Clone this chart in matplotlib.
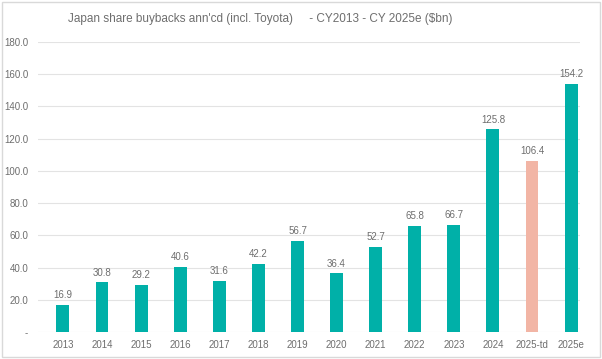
import matplotlib.pyplot as plt
from matplotlib.patches import Rectangle

years = ["2013", "2014", "2015", "2016", "2017", "2018", "2019", "2020",
         "2021", "2022", "2023", "2024", "2025-td", "2025e"]
values = [16.9, 30.8, 29.2, 40.6, 31.6, 42.2, 56.7, 36.4, 52.7, 65.8, 66.7, 125.8, 106.4, 154.2]

teal = "#00B0A8"
salmon = "#F2B5A5"
colors = [salmon if y == "2025-td" else teal for y in years]

plt.rcParams['font.family'] = ['Liberation Sans Narrow', 'Liberation Sans', 'DejaVu Sans']

fig = plt.figure(figsize=(6.02, 3.59), dpi=100)
ax = fig.add_axes([0.063, 0.075, 0.9, 0.808])

x = list(range(len(years)))
ax.bar(x, values, width=0.33, color=colors, zorder=3)
for xi, v in zip(x, values):
    ax.text(xi, v + 3, f"{v:.1f}", ha="center", va="bottom", fontsize=7, color="#6E6E6E")

ax.set_ylim(0, 180)
ax.set_xlim(-0.64, 13.22)
yt = list(range(0, 181, 20))
ax.set_yticks(yt)
ax.set_yticklabels(["-"] + [f"{t:.1f}" for t in yt[1:]])
ax.set_xticks(x)
ax.set_xticklabels(years)
ax.tick_params(length=0, labelsize=7, labelcolor="#6E6E6E")
ax.tick_params(axis="y", pad=7)
ax.tick_params(axis="x", pad=6)
ax.grid(axis="y", color="#E3E3E3", linewidth=0.8, zorder=0)
for s in ax.spines.values():
    s.set_visible(False)

fig.text(0.432, 0.948, "Japan share buybacks ann'cd (incl. Toyota)     - CY2013 - CY 2025e ($bn)",
         ha="center", va="center", fontsize=8.5, color="#6E6E6E")
fig.patches.append(Rectangle((0.003, 0.006), 0.994, 0.988, transform=fig.transFigure,
                             fill=False, edgecolor="#D9D9D9", linewidth=1))

fig.savefig("out.png", dpi=100)
